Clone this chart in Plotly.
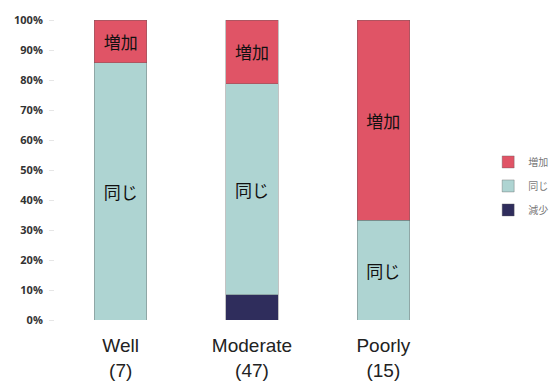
import plotly.graph_objects as go

categories = ["Well<br>(7)", "Moderate<br>(47)", "Poorly<br>(15)"]
series_names = ["減少", "同じ", "増加"]
legend_ranks = [3, 2, 1]
decrease = [0, 8.5, 0]
same = [85.7, 70.2, 33.3]
increase = [14.3, 21.3, 66.7]
decrease_text = ["", "", ""]
same_text = ["同じ", "同じ", "同じ"]
increase_text = ["増加", "増加", "増加"]
y_ticks = [0, 10, 20, 30, 40, 50, 60, 70, 80, 90, 100]
y_tick_labels = [f"{v}%" for v in y_ticks]

colors = ["#2f2d5c", "#aed4d2", "#e05466"]
series = [decrease, same, increase]
texts = [decrease_text, same_text, increase_text]

fig = go.Figure()
for name, vals, txt, col, rk in zip(series_names, series, texts, colors, legend_ranks):
    fig.add_trace(go.Bar(
        x=categories, y=vals, name=name, text=txt,
        textposition="inside", insidetextanchor="middle",
        textfont=dict(family="Noto Sans CJK JP", size=17, color="#111"),
        marker=dict(color=col, line=dict(width=0.6, color="rgba(90,90,90,0.6)")),
        legendgroup=name, legendrank=rk, hoverinfo="skip",
    ))

fig.update_layout(
    width=556, height=381,
    barmode="stack", bargap=0.6,
    plot_bgcolor="white", paper_bgcolor="white",
    margin=dict(l=55, r=107, t=20, b=61),
    legend=dict(
        xref="container", yref="container", x=0.878, y=0.512,
        xanchor="left", yanchor="middle",
        traceorder="grouped",
        font=dict(family="Noto Sans CJK JP", size=10, color="#777"),
        tracegroupgap=5, itemwidth=30,
    ),
    font=dict(family="Liberation Sans"),
)
fig.update_yaxes(
    range=[0, 100], tickvals=y_ticks, ticktext=y_tick_labels,
    showgrid=False, zeroline=False, showline=False,
    ticks="outside", ticklen=5, tickcolor="#e6e6e6",
    tickfont=dict(family="Open Sans", size=11, color="#333", weight="bold"),
    ticklabelstandoff=4, automargin=False,
)
fig.update_xaxes(
    showgrid=False, showline=False, ticks="",
    tickfont=dict(family="Liberation Sans", size=19, color="#222"),
    ticklabelstandoff=12, automargin=False,
)
fig.write_html("out.html")
